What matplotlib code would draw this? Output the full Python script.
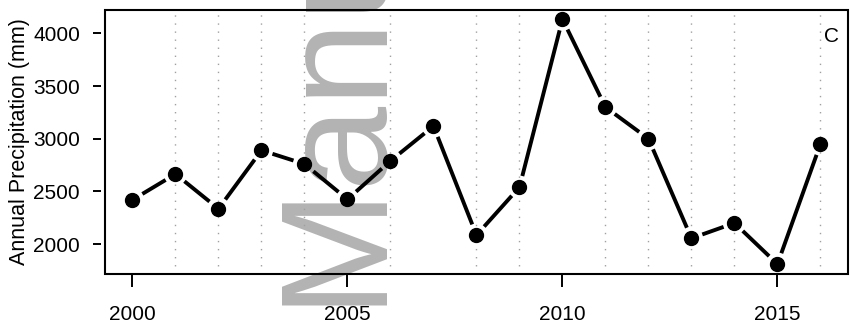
import matplotlib.pyplot as plt
from matplotlib.patches import Rectangle

plt.rcParams['font.family'] = ['Liberation Sans', 'DejaVu Sans']

# 年降水量
years = [2000, 2001, 2002, 2003, 2004, 2005, 2006, 2007, 2008,
         2009, 2010, 2011, 2012, 2013, 2014, 2015, 2016]
precip = [2420, 2665, 2335, 2890, 2760, 2425, 2790, 3120, 2085,
          2540, 4135, 3300, 3000, 2055, 2200, 1810, 2950]
x_ticks = [2000, 2005, 2010, 2015]
y_ticks = [2000, 2500, 3000, 3500, 4000]
grid_years = [2001, 2002, 2003, 2004, 2006, 2008, 2009,
              2011, 2012, 2013, 2014, 2016]

fig = plt.figure(figsize=(8.5, 3.26), dpi=100)
ax = fig.add_axes([0.1235, 0.1595, 0.8741, 0.8098])
ax.set_xlim(1999.36, 2016.64)
ax.set_ylim(1716, 4222)

# 水印
ax.text(376 / 850, 21 / 326, 'Manuscript', transform=fig.transFigure,
        rotation=90, rotation_mode='anchor', ha='left', va='baseline',
        fontsize=110, color='#b3b3b3', zorder=0.5, clip_on=False)

# 点状竖线
for yr in grid_years:
    ax.axvline(yr, color='#a0a0a0', linewidth=1.0, dashes=(1, 4.8), zorder=1)

# type="b": 线段两端留空
for i in range(len(years) - 1):
    ax.annotate('', xy=(years[i + 1], precip[i + 1]), xytext=(years[i], precip[i]),
                arrowprops=dict(arrowstyle='-', shrinkA=8.3, shrinkB=8.3,
                                lw=2.8, color='black', capstyle='butt'),
                zorder=2)
ax.plot(years, precip, linestyle='none', marker='o', markersize=10,
        color='black', zorder=3)

# 边框
for s in ax.spines.values():
    s.set_visible(False)
ax.spines['left'].set_position(('outward', 3))
ax.add_patch(Rectangle((0, 0), 1, 1, transform=ax.transAxes, fill=False,
                       edgecolor='black', linewidth=1.5, zorder=4, clip_on=False))

ax.set_xticks(x_ticks)
ax.set_yticks(y_ticks)
ax.tick_params(axis='y', direction='out', length=6, width=1.4, pad=9, labelsize=15)
ax.tick_params(axis='x', direction='out', length=9, width=1.4, pad=13, labelsize=15)
ax.set_ylabel('Annual Precipitation (mm)', fontsize=15.5, labelpad=2)
ax.text(0.988, 0.9, 'C', transform=ax.transAxes, ha='right', va='center', fontsize=15)

plt.savefig('out.png', dpi=100)
